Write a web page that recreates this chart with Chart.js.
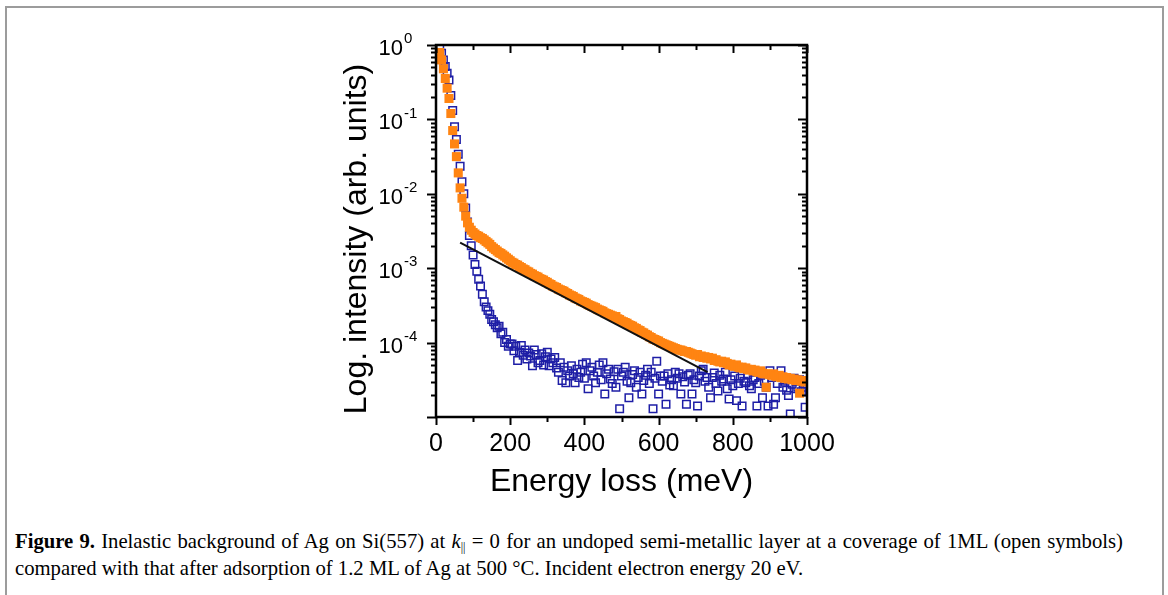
<!DOCTYPE html>
<html>
<head>
<meta charset="utf-8">
<script src="https://cdn.jsdelivr.net/npm/chart.js@4/dist/chart.umd.min.js"></script>
<style>
  html, body { margin: 0; padding: 0; background: #fff; }
  body { width: 1168px; height: 595px; position: relative; overflow: hidden; }
  #frame { position: absolute; left: 5px; top: 6px; width: 1155px; height: 640px;
           border: 2px solid #9c9c9c; }
  #plot { position: absolute; left: 0; top: 0; width: 1168px; height: 500px; }
  #caption { position: absolute; left: 15px; top: 528px; width: 1108px;
             font-family: "Liberation Serif", "Times New Roman", serif;
             font-size: 20.7px; line-height: 27px; color: #000;
             text-align: justify; text-align-last: left; }
  #caption b { font-weight: bold; }
  #caption sub { font-size: 12px; vertical-align: -3px; line-height: 0; }
</style>
</head>
<body>
<div id="frame"></div>
<div id="plot"><canvas id="chart" width="1168" height="500"></canvas></div>
<div id="caption"><b>Figure 9.</b> Inelastic background of Ag on Si(557) at <i>k</i><sub>||</sub> = 0 for an undoped semi-metallic layer at a coverage of 1ML (open symbols) compared with that after adsorption of 1.2 ML of Ag at 500 °C. Incident electron energy 20 eV.</div>
<script>
// Energy loss (meV) shared by both spectra
const energy = [
  10, 15, 20, 25, 30, 35, 40, 45, 50, 55, 60, 65, 70, 75, 80, 85, 90, 95, 100, 105,
  110, 115, 120, 125, 130, 135, 140, 145, 150, 155, 160, 165, 170, 175, 180, 185, 190, 195, 200, 205,
  210, 215, 220, 225, 230, 235, 240, 245, 250, 255, 260, 265, 270, 275, 280, 285, 290, 295, 300, 305,
  310, 315, 320, 325, 330, 335, 340, 345, 350, 355, 360, 365, 370, 375, 380, 385, 390, 395, 400, 405,
  410, 415, 420, 425, 430, 435, 440, 445, 450, 455, 460, 465, 470, 475, 480, 485, 490, 495, 500, 505,
  510, 515, 520, 525, 530, 535, 540, 545, 550, 555, 560, 565, 570, 575, 580, 585, 590, 595, 600, 605,
  610, 615, 620, 625, 630, 635, 640, 645, 650, 655, 660, 665, 670, 675, 680, 685, 690, 695, 700, 705,
  710, 715, 720, 725, 730, 735, 740, 745, 750, 755, 760, 765, 770, 775, 780, 785, 790, 795, 800, 805,
  810, 815, 820, 825, 830, 835, 840, 845, 850, 855, 860, 865, 870, 875, 880, 885, 890, 895, 900, 905,
  910, 915, 920, 925, 930, 935, 940, 945, 950, 955, 960, 965, 970, 975, 980, 985, 990, 995, 1000
];

// Undoped semi-metallic layer, 1 ML (open symbols)
const intensityUndoped = [
  9.12e-1, 7.76e-1, 6.31e-1, 5.13e-1, 4.17e-1, 3.39e-1, 2.09e-1, 1.32e-1, 7.94e-2, 5.37e-2,
  3.39e-2, 2.34e-2, 1.45e-2, 1.00e-2, 6.46e-3, 4.17e-3, 2.75e-3, 2.00e-3, 1.51e-3, 1.12e-3,
  9.12e-4, 7.08e-4, 5.75e-4, 4.47e-4, 3.55e-4, 3.02e-4, 2.69e-4, 2.40e-4, 2.04e-4, 1.91e-4,
  1.74e-4, 1.58e-4, 1.66e-4, 1.32e-4, 1.38e-4, 1.00e-4, 1.10e-4, 8.91e-5, 9.55e-5, 9.55e-5,
  7.76e-5, 8.91e-5, 5.75e-5, 7.41e-5, 9.12e-5, 6.76e-5, 7.94e-5, 6.03e-5, 7.24e-5, 6.61e-5,
  4.90e-5, 7.94e-5, 6.92e-5, 5.37e-5, 5.75e-5, 7.08e-5, 5.01e-5, 6.46e-5, 7.41e-5, 4.90e-5,
  6.03e-5, 5.37e-5, 6.31e-5, 4.57e-5, 3.98e-5, 5.37e-5, 3.09e-5, 4.68e-5, 2.88e-5, 4.17e-5,
  3.55e-5, 4.90e-5, 3.80e-5, 2.88e-5, 4.37e-5, 3.39e-5, 3.98e-5, 5.13e-5, 3.31e-5, 5.37e-5,
  2.40e-5, 4.17e-5, 4.68e-5, 3.55e-5, 2.88e-5, 3.98e-5, 5.01e-5, 3.16e-5, 5.37e-5, 2.04e-5,
  3.80e-5, 4.37e-5, 3.24e-5, 2.82e-5, 4.07e-5, 2.51e-5, 4.37e-5, 1.29e-5, 3.55e-5, 3.98e-5,
  4.68e-5, 3.02e-5, 1.82e-5, 2.88e-5, 3.72e-5, 4.17e-5, 2.51e-5, 3.39e-5, 3.98e-5, 2.04e-5,
  3.09e-5, 3.63e-5, 4.37e-5, 2.82e-5, 3.98e-5, 1.29e-5, 3.31e-5, 5.62e-5, 2.04e-5, 3.55e-5,
  3.02e-5, 3.55e-5, 1.48e-5, 3.80e-5, 2.69e-5, 3.16e-5, 2.63e-5, 3.98e-5, 3.31e-5, 3.80e-5,
  2.04e-5, 3.47e-5, 2.95e-5, 1.48e-5, 3.63e-5, 3.80e-5, 2.04e-5, 3.16e-5, 2.88e-5, 1.41e-5,
  3.55e-5, 4.17e-5, 4.37e-5, 3.02e-5, 3.39e-5, 2.51e-5, 1.82e-5, 3.39e-5, 3.89e-5, 2.82e-5,
  2.24e-5, 3.63e-5, 3.02e-5, 3.24e-5, 3.98e-5, 2.40e-5, 1.74e-5, 3.16e-5, 2.63e-5, 3.55e-5,
  1.66e-5, 2.82e-5, 3.31e-5, 1.41e-5, 3.02e-5, 2.88e-5, 3.72e-5, 2.63e-5, 2.40e-5, 3.16e-5,
  3.39e-5, 1.41e-5, 2.82e-5, 3.63e-5, 1.82e-5, 3.02e-5, 2.51e-5, 1.41e-5, 4.17e-5, 3.39e-5,
  1.48e-5, 1.82e-5, 2.82e-5, 3.55e-5, 4.17e-5, 2.51e-5, 3.02e-5, 2.29e-5, 1.95e-5, 1.10e-5,
  2.75e-5, 3.31e-5, 2.40e-5, 2.51e-5, 3.16e-5, 2.19e-5, 2.82e-5, 1.35e-5, 2.51e-5
];

// After adsorption of 1.2 ML Ag at 500 °C (filled symbols)
const intensityAdsorbed = [
  7.94e-1, 6.31e-1, 4.79e-1, 3.55e-1, 2.63e-1, 1.91e-1, 1.20e-1, 7.08e-2, 4.68e-2, 3.16e-2,
  1.91e-2, 1.20e-2, 8.71e-3, 6.61e-3, 5.01e-3, 4.07e-3, 3.55e-3, 3.24e-3, 3.02e-3, 2.88e-3,
  2.75e-3, 2.69e-3, 2.57e-3, 2.51e-3, 2.40e-3, 2.29e-3, 2.19e-3, 2.09e-3, 1.95e-3, 1.86e-3,
  1.78e-3, 1.70e-3, 1.62e-3, 1.58e-3, 1.51e-3, 1.45e-3, 1.38e-3, 1.32e-3, 1.26e-3, 1.20e-3,
  1.17e-3, 1.12e-3, 1.10e-3, 1.05e-3, 1.02e-3, 9.77e-4, 9.55e-4, 9.12e-4, 8.91e-4, 8.51e-4,
  8.32e-4, 7.94e-4, 7.76e-4, 7.59e-4, 7.24e-4, 7.08e-4, 6.92e-4, 6.61e-4, 6.46e-4, 6.17e-4,
  6.03e-4, 5.75e-4, 5.62e-4, 5.50e-4, 5.25e-4, 5.13e-4, 5.01e-4, 4.90e-4, 4.68e-4, 4.57e-4,
  4.37e-4, 4.27e-4, 4.17e-4, 3.98e-4, 3.89e-4, 3.80e-4, 3.63e-4, 3.55e-4, 3.47e-4, 3.39e-4,
  3.24e-4, 3.16e-4, 3.09e-4, 3.02e-4, 2.95e-4, 2.82e-4, 2.75e-4, 2.69e-4, 2.63e-4, 2.51e-4,
  2.45e-4, 2.40e-4, 2.34e-4, 2.29e-4, 2.19e-4, 2.24e-4, 2.09e-4, 2.04e-4, 1.95e-4, 1.91e-4,
  1.86e-4, 1.82e-4, 1.74e-4, 1.70e-4, 1.66e-4, 1.58e-4, 1.55e-4, 1.48e-4, 1.45e-4, 1.38e-4,
  1.35e-4, 1.29e-4, 1.26e-4, 1.20e-4, 1.17e-4, 1.12e-4, 1.10e-4, 1.07e-4, 1.05e-4, 1.00e-4,
  9.77e-5, 9.55e-5, 9.33e-5, 9.12e-5, 8.91e-5, 8.71e-5, 8.51e-5, 8.32e-5, 8.13e-5, 7.94e-5,
  7.94e-5, 7.76e-5, 7.59e-5, 7.59e-5, 7.41e-5, 7.24e-5, 7.08e-5, 6.92e-5, 6.76e-5, 6.92e-5,
  6.46e-5, 6.61e-5, 6.31e-5, 6.46e-5, 6.17e-5, 6.31e-5, 6.03e-5, 6.17e-5, 5.75e-5, 5.89e-5,
  5.62e-5, 5.50e-5, 5.62e-5, 5.37e-5, 5.50e-5, 5.25e-5, 5.01e-5, 5.13e-5, 4.90e-5, 4.79e-5,
  5.01e-5, 4.68e-5, 4.57e-5, 4.68e-5, 4.47e-5, 4.57e-5, 4.37e-5, 4.27e-5, 4.37e-5, 4.17e-5,
  4.27e-5, 4.07e-5, 3.98e-5, 4.17e-5, 3.89e-5, 3.80e-5, 2.51e-5, 3.80e-5, 3.72e-5, 3.63e-5,
  3.80e-5, 3.55e-5, 3.47e-5, 3.63e-5, 3.39e-5, 3.47e-5, 3.31e-5, 3.39e-5, 3.24e-5, 3.31e-5,
  3.16e-5, 3.24e-5, 3.09e-5, 3.16e-5, 2.09e-5, 3.02e-5, 3.09e-5, 2.95e-5, 3.02e-5
];

// Exponential background fit (straight on the log scale)
const fitEnergy = [65, 732];
const fitIntensity = [2.2e-3, 4.0e-5];

// Axis ticks and labels
const xTickValues = [0, 100, 200, 300, 400, 500, 600, 700, 800, 900, 1000];
const xTickLabels = [0, 200, 400, 600, 800, 1000];
const yDecadeExponents = [0, -1, -2, -3, -4, -5];
const yLabelExponents = [0, -1, -2, -3, -4];
const yMinorMantissas = [2, 3, 4, 5, 6, 7, 8, 9];

const xTitle = 'Energy loss (meV)';
const yTitle = 'Log. intensity (arb. units)';

const pairs = (xs, ys) => xs.map((v, i) => ({ x: v, y: ys[i] }));

const SANS = '"Liberation Sans", Arial, Helvetica, sans-serif';

// Boxed frame, inward/outward ticks, superscript decade labels and titles
const framePlugin = {
  id: 'framePlugin',
  afterDraw(chart) {
    const { ctx, chartArea: a } = chart;
    const xs = chart.scales.x, ys = chart.scales.y;
    const seg = (x1, y1, x2, y2) => { ctx.beginPath(); ctx.moveTo(x1, y1); ctx.lineTo(x2, y2); ctx.stroke(); };
    ctx.save();
    ctx.strokeStyle = '#000';
    ctx.lineWidth = 2;

    // x ticks: outward on the bottom, inward on the top
    xTickValues.forEach(v => {
      const px = Math.round(xs.getPixelForValue(v)) + 0.5;
      const len = v % 200 === 0 ? 8 : 5;
      seg(px, a.bottom, px, a.bottom + len);
      seg(px, a.top, px, a.top + len);
    });

    // y ticks: outward on the left, inward on the right
    yDecadeExponents.forEach(e => {
      const py = Math.round(ys.getPixelForValue(Math.pow(10, e))) + 0.5;
      seg(a.left - 9, py, a.left, py);
      seg(a.right - 9, py, a.right, py);
      if (e > -5) {
        yMinorMantissas.forEach(m => {
          const v = m * Math.pow(10, e - 1);
          const q = Math.round(ys.getPixelForValue(v)) + 0.5;
          seg(a.left - 5, q, a.left, q);
          seg(a.right - 5, q, a.right, q);
        });
      }
    });

    // frame
    ctx.lineWidth = 2.5;
    ctx.strokeRect(a.left, a.top, a.right - a.left, a.bottom - a.top);

    // x tick labels
    ctx.fillStyle = '#000';
    ctx.font = '25px ' + SANS;
    ctx.textAlign = 'center';
    ctx.textBaseline = 'middle';
    xTickLabels.forEach(v => {
      ctx.fillText(String(v), xs.getPixelForValue(v), a.bottom + 27);
    });

    // y tick labels: 10 with a raised exponent
    yLabelExponents.forEach(e => {
      const py = ys.getPixelForValue(Math.pow(10, e));
      const baseRight = a.left - 33;
      ctx.font = '22px ' + SANS;
      ctx.textAlign = 'right';
      ctx.fillText('10', baseRight, py + 4);
      ctx.font = '15px ' + SANS;
      ctx.textAlign = 'left';
      ctx.fillText(String(e), baseRight + 1, py - 6);
    });

    // axis titles
    ctx.font = '32px ' + SANS;
    ctx.textAlign = 'center';
    ctx.fillText(xTitle, (a.left + a.right) / 2, a.bottom + 65);
    ctx.save();
    ctx.translate(a.left - 79, (a.top + a.bottom) / 2 + 8);
    ctx.rotate(-Math.PI / 2);
    ctx.fillText(yTitle, 0, 0);
    ctx.restore();

    ctx.restore();
  }
};

new Chart(document.getElementById('chart'), {
  type: 'scatter',
  data: {
    datasets: [
      {
        label: 'Exponential fit',
        type: 'line',
        data: pairs(fitEnergy, fitIntensity),
        borderColor: '#111',
        borderWidth: 2,
        pointRadius: 0,
        fill: false
      },
      {
        label: '1.2 ML Ag at 500 °C',
        data: pairs(energy, intensityAdsorbed),
        pointStyle: 'rect',
        pointRadius: 6.4,
        backgroundColor: '#ff8412',
        borderColor: '#ff8412',
        borderWidth: 0
      },
      {
        label: '1 ML, undoped',
        data: pairs(energy, intensityUndoped),
        pointStyle: 'rect',
        pointRadius: 5.3,
        backgroundColor: 'rgba(0,0,0,0)',
        borderColor: '#1e1ea6',
        borderWidth: 1.5
      }
    ]
  },
  options: {
    responsive: false,
    animation: false,
    layout: { padding: { left: 436, right: 361, top: 45, bottom: 83 } },
    plugins: { legend: { display: false }, tooltip: { enabled: false } },
    scales: {
      x: { type: 'linear', min: 0, max: 1000, display: false },
      y: { type: 'logarithmic', min: 1e-5, max: 1, display: false }
    }
  },
  plugins: [framePlugin]
});
</script>
</body>
</html>
